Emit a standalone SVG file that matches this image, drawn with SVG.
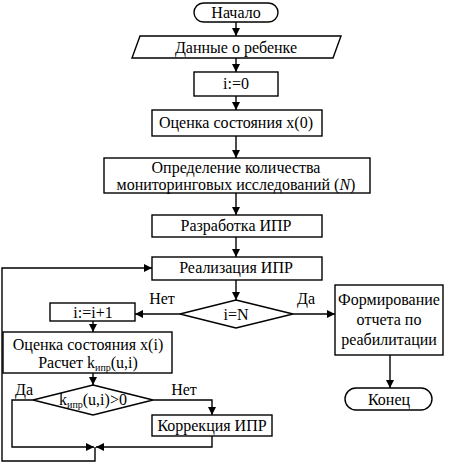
<svg xmlns="http://www.w3.org/2000/svg" width="449" height="463" viewBox="0 0 449 463">
<style>
.s{fill:#fff;stroke:#000;stroke-width:1.4}
.c{fill:none;stroke:#000;stroke-width:1.4}
text{font-family:"Liberation Serif","Times New Roman",serif;font-size:16px;fill:#000;text-anchor:middle}
.sub{font-size:10px}
</style>
<defs>
<marker id="a" viewBox="0 0 10 10" refX="10" refY="5" markerWidth="9" markerHeight="8" markerUnits="userSpaceOnUse" orient="auto">
<path d="M0,0 L10,5 L0,10 z" fill="#000"/>
</marker>
</defs>
<g id="connectors">
<path class="c" d="M236,22 V36" marker-end="url(#a)"/>
<path class="c" d="M236,58 V72" marker-end="url(#a)"/>
<path class="c" d="M236,96 V110" marker-end="url(#a)"/>
<path class="c" d="M236,136 V158" marker-end="url(#a)"/>
<path class="c" d="M236,193 V215" marker-end="url(#a)"/>
<path class="c" d="M236,237 V257" marker-end="url(#a)"/>
<path class="c" d="M236,280 V300" marker-end="url(#a)"/>
<path class="c" d="M180,314 H135" marker-end="url(#a)"/>
<path class="c" d="M293,314 H335" marker-end="url(#a)"/>
<path class="c" d="M390,355 V388" marker-end="url(#a)"/>
<path class="c" d="M93,321 V332" marker-end="url(#a)"/>
<path class="c" d="M93,373 V385" marker-end="url(#a)"/>
<path class="c" d="M153,400 H212 V415" marker-end="url(#a)"/>
<path class="c" d="M212,436 V447 H96" marker-end="url(#a)"/>
<path class="c" d="M33,400 H12 V447 H94" marker-end="url(#a)"/>
<path class="c" d="M95,447 V461 H2 V268 H152" marker-end="url(#a)"/>
<text x="162" y="304">Нет</text>
<text x="306" y="304">Да</text>
<text x="24" y="395">Да</text>
<text x="184" y="395">Нет</text>
</g>
<g id="start">
<rect class="s" x="194" y="3" width="84" height="19" rx="9.5"/>
<text x="236" y="18">Начало</text>
</g>
<g id="data">
<path class="s" d="M140,36 H341 L333,58 H132 Z"/>
<text x="236" y="53">Данные о ребенке</text>
</g>
<g id="init">
<rect class="s" x="194" y="72" width="84" height="24"/>
<text x="236" y="89">i:=0</text>
</g>
<g id="eval0">
<rect class="s" x="152" y="110" width="170" height="26"/>
<text x="236" y="128">Оценка состояния x(0)</text>
</g>
<g id="defN">
<rect class="s" x="104" y="158" width="266" height="35"/>
<text x="236" y="173">Определение количества</text>
<text x="236" y="190">мониторинговых исследований (<tspan font-style="italic">N</tspan>)</text>
</g>
<g id="develop">
<rect class="s" x="152" y="215" width="170" height="22"/>
<text x="236" y="231">Разработка ИПР</text>
</g>
<g id="realize">
<rect class="s" x="152" y="257" width="170" height="23"/>
<text x="236" y="273">Реализация ИПР</text>
</g>
<g id="cond1">
<path class="s" d="M236,300 L293,314 L236,328 L180,314 Z"/>
<text x="236" y="320">i=N</text>
</g>
<g id="inc">
<rect class="s" x="50" y="303" width="85" height="18"/>
<text x="93" y="318">i:=i+1</text>
</g>
<g id="report">
<rect class="s" x="335" y="285" width="108" height="70"/>
<text x="389" y="305">Формирование</text>
<text x="389" y="325">отчета по</text>
<text x="389" y="345">реабилитации</text>
</g>
<g id="end">
<rect class="s" x="345" y="388" width="87" height="22" rx="11"/>
<text x="389" y="405">Конец</text>
</g>
<g id="evali">
<rect class="s" x="3" y="332" width="169" height="41"/>
<text x="88" y="350">Оценка состояния x(i)</text>
<text x="88" y="368">Расчет k<tspan class="sub" dy="3">ипр</tspan><tspan dy="-3">(u,i)</tspan></text>
</g>
<g id="cond2">
<path class="s" d="M93,385 L153,400 L93,415 L33,400 Z"/>
<text x="93" y="405">k<tspan class="sub" dy="3">ипр</tspan><tspan dy="-3">(u,i)&gt;0</tspan></text>
</g>
<g id="correct">
<rect class="s" x="152" y="415" width="120" height="21"/>
<text x="212" y="431">Коррекция ИПР</text>
</g>
</svg>
